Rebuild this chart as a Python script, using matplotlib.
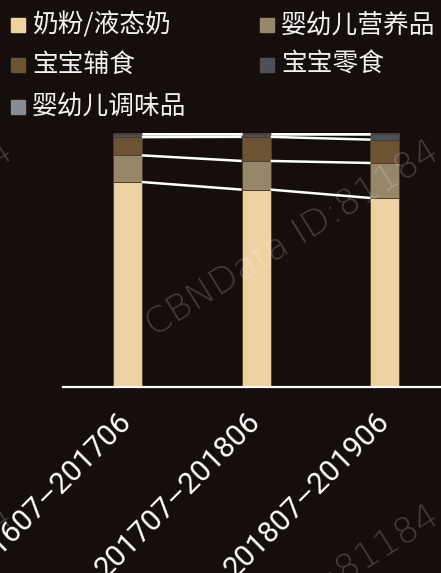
import matplotlib.pyplot as plt
from matplotlib.patches import Rectangle

periods = ["201607–201706", "201707–201806", "201807–201906"]
names = ["奶粉/液态奶", "婴幼儿营养品", "宝宝辅食", "宝宝零食", "婴幼儿调味品"]

# share of each category (%), bottom to top in the stack
milk = [80.8, 77.8, 74.5]
nutrition = [10.5, 11.3, 13.8]
food = [7.2, 9.5, 9.2]
snack = [1.4, 1.3, 2.4]
seasoning = [0.1, 0.1, 0.1]

colors = ["#efd2a3", "#978669", "#6b5334", "#4d5056", "#898b90"]
bg = "#160e0d"

W, H = 441, 573
fig = plt.figure(figsize=(W / 100, H / 100), dpi=100, facecolor=bg)
ax = fig.add_axes([63 / W, 1 - 387 / H, 1 - 63 / W, (387 - 133.3) / H])
ax.set_facecolor(bg)

series = [milk, nutrition, food, snack, seasoning]
x = list(range(len(periods)))
width = 0.225
bottom = [0.0] * len(periods)
tops = []
for vals, c in zip(series, colors):
    ax.bar(x, vals, width, bottom=bottom, color=c, edgecolor="#4a3b2c", linewidth=0.6, zorder=2)
    bottom = [b + v for b, v in zip(bottom, vals)]
    tops.append(bottom)

# white connectors between the segment edges of neighbouring bars
for level in tops:
    for i in range(len(x) - 1):
        ax.plot([x[i] + width / 2, x[i + 1] - width / 2], [level[i], level[i + 1]],
                color="white", lw=1.8, solid_capstyle="butt", zorder=3)

ax.set_xlim(-0.5, 2.435)
ax.set_ylim(0, 100)
for s in ["left", "right", "top"]:
    ax.spines[s].set_visible(False)
ax.spines["bottom"].set_color("white")
ax.spines["bottom"].set_linewidth(1.6)
ax.set_yticks([])
ax.set_xticks(x)
ax.set_xticklabels(periods, rotation=45, ha="right", va="center", rotation_mode="anchor",
                   fontsize=21.5, color="white", family="Roboto")
ax.tick_params(axis="x", length=0, pad=22)

# legend, two columns filled row by row
col_x = [11, 260]
row_y = [25, 65, 107]
for i, (name, c) in enumerate(zip(names, colors)):
    lx = col_x[i % 2]
    ly = row_y[i // 2]
    fig.add_artist(Rectangle((lx / W, 1 - (ly + 7) / H), 14 / W, 14 / H,
                             transform=fig.transFigure, color=c))
    fig.text((lx + 21) / W, 1 - ly / H, name, va="center", ha="left", fontsize=18.5,
             color="#f2f2f2", family=["Noto Sans CJK SC", "DejaVu Sans"])

# tiled watermark
for dx in (0, -426):
    for dy in (0, 365):
        fig.text((292 + dx) / W, 1 - (238 + dy) / H, "CBNData ID:81184", rotation=32,
                 ha="center", va="center", fontsize=26, color="white", alpha=0.2,
                 family="DejaVu Sans", fontweight="light", zorder=10)

fig.savefig("out.png", dpi=100, facecolor=bg)
